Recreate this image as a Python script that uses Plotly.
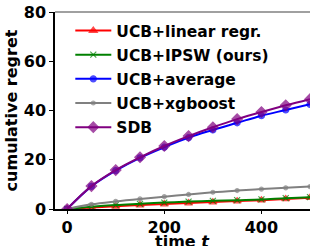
import plotly.graph_objects as go

t = [0, 50, 100, 150, 200, 250, 300, 350, 400, 450, 500]
linear = [0, 0.6, 1.1, 1.6, 2.0, 2.4, 2.8, 3.2, 3.6, 4.1, 4.6]
ipsw = [0, 0.9, 1.6, 2.1, 2.6, 3.0, 3.3, 3.6, 3.9, 4.4, 4.8]
average = [0, 9.2, 15.6, 20.8, 25.1, 29.0, 32.1, 35.0, 37.9, 40.2, 42.5]
xgboost = [0, 1.9, 3.1, 4.1, 5.0, 5.9, 6.8, 7.5, 8.1, 8.6, 9.1]
sdb = [0, 9.3, 15.8, 21.0, 25.6, 29.6, 33.2, 36.5, 39.4, 42.1, 44.6]

series = [
    ("UCB+linear regr.", linear, "#ff0000", "triangle-up", 7),
    ("UCB+IPSW (ours)", ipsw, "#008000", "x-thin", 6),
    ("UCB+average", average, "#0000ff", "circle", 6),
    ("UCB+xgboost", xgboost, "#808080", "circle", 4),
    ("SDB", sdb, "#800080", "diamond", 8),
]

FONT = "DejaVu Sans"
fig = go.Figure()
for name, y, c, sym, sz in series:
    fig.add_trace(go.Scatter(
        x=t, y=y, name=name, mode="lines+markers", legendgroup=name,
        line=dict(color=c, width=2, shape="spline"),
        marker=dict(symbol=sym, size=sz, color=c, opacity=0.7,
                    line=dict(color=c, width=1.2)),
    ))

fig.update_layout(
    width=310, height=246,
    margin=dict(l=55, r=0, t=12, b=37, autoexpand=False),
    paper_bgcolor="white", plot_bgcolor="white",
    font=dict(family=FONT, size=16, color="black", weight="bold"),
    showlegend=True,
    legend=dict(x=0.06, y=0.99, xanchor="left", yanchor="top",
                bgcolor="rgba(0,0,0,0)", borderwidth=0,
                font=dict(family=FONT, size=15.5, weight="bold"),
                itemwidth=36, tracegroupgap=1),
    xaxis=dict(range=[-25, 500], tickvals=[0, 200, 400], showgrid=False,
               zeroline=False, showline=True, linecolor="black", linewidth=1.5,
               ticks="outside", ticklen=3, tickwidth=1.2, tickcolor="black",
               automargin=False,
               tickfont=dict(size=16, weight="bold")),
    yaxis=dict(range=[0, 80], tickvals=[0, 20, 40, 60, 80], showgrid=False,
               zeroline=False, showline=True, linecolor="black", linewidth=1.5,
               ticks="outside", ticklen=4, tickwidth=1.2, tickcolor="black",
               automargin=False,
               tickfont=dict(size=16, weight="bold"),
               title=dict(text="cumulative regret", standoff=2,
                          font=dict(size=16, weight="bold"))),
    annotations=[dict(text="time <i>t</i>", xref="paper", yref="paper",
                      x=0.5, y=0, xanchor="center", yanchor="middle",
                      yshift=-32, showarrow=False,
                      font=dict(family=FONT, size=16, weight="bold"))],
)
fig.add_shape(type="line", xref="paper", yref="paper", x0=0, x1=1, y0=1, y1=1,
              line=dict(color="#808080", width=1.5))
fig.write_html("out.html", config={"displayModeBar": False},
               post_script="document.body.style.margin='0';")
